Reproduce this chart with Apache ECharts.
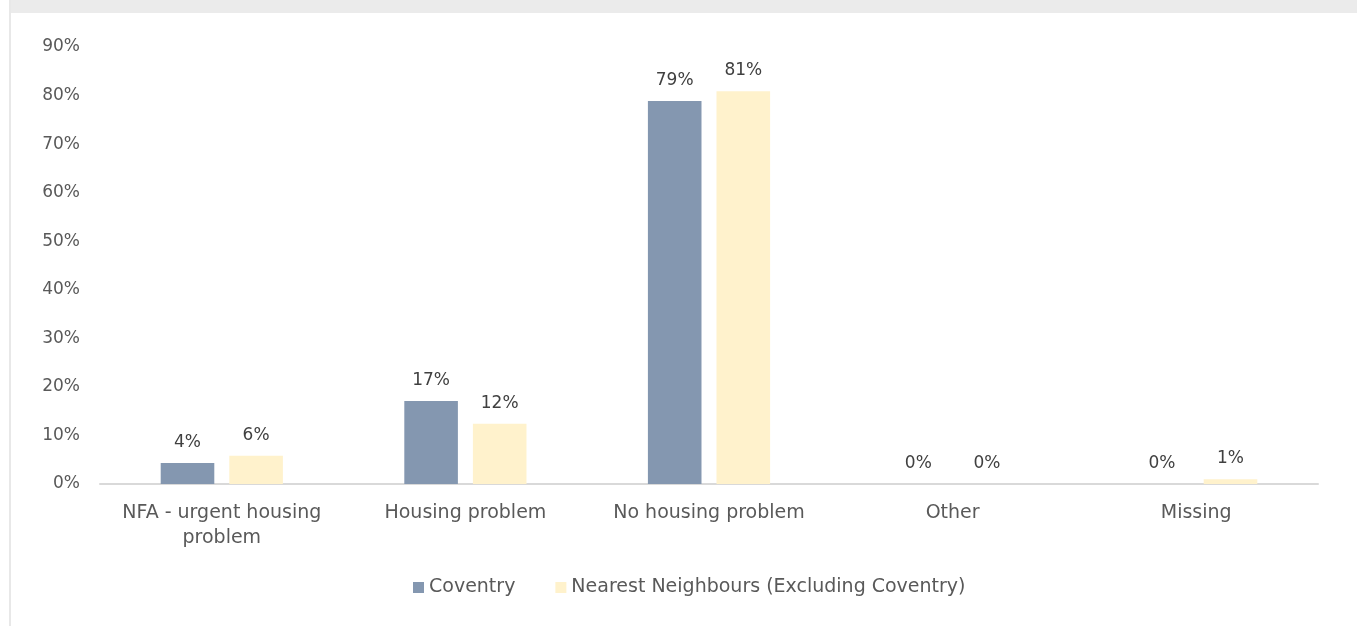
<!DOCTYPE html>
<html>
<head>
<meta charset="utf-8">
<script src="https://cdn.jsdelivr.net/npm/echarts@6/dist/echarts.min.js"></script>
<style>
  html, body { margin: 0; padding: 0; background: #ffffff; }
  #chart { width: 1357px; height: 628px; }
</style>
</head>
<body>
<div id="chart"></div>
<script>
// Housing situation: share of cases by category
const categories = ['NFA - urgent housing\nproblem', 'Housing problem', 'No housing problem', 'Other', 'Missing'];
const coventry = [4.3, 17.1, 78.9, 0, 0];
const nearestNeighbours = [5.8, 12.4, 80.9, 0, 1.0];
const seriesNames = ['Coventry', 'Nearest Neighbours (Excluding Coventry)'];
const yTicks = { min: 0, max: 90, interval: 10 };

const FONT = '"DejaVu Sans"';
const TEXT = '#595959';

const chart = echarts.init(document.getElementById('chart'), null, { renderer: 'canvas' });

const pctLabel = {
  show: true,
  position: 'top',
  distance: 12,
  fontFamily: FONT,
  fontSize: 17,
  color: '#404040',
  formatter: p => Math.round(p.value) + '%'
};

chart.setOption({
  backgroundColor: '#ffffff',
  animation: false,
  graphic: [
    { type: 'rect', left: 9, top: 0, shape: { width: 1348, height: 13 }, style: { fill: '#ebebeb' }, silent: true },
    { type: 'rect', left: 9, top: 0, shape: { width: 2, height: 626 }, style: { fill: '#e8e8e8' }, silent: true }
  ],
  grid: { left: 100, right: 39, top: 47, bottom: 144, containLabel: false },
  legend: {
    data: seriesNames,
    bottom: 26,
    left: 408,
    itemWidth: 11,
    itemHeight: 11,
    itemGap: 40,
    icon: 'rect',
    textStyle: { fontFamily: FONT, fontSize: 19, color: TEXT }
  },
  xAxis: {
    type: 'category',
    data: categories,
    axisLine: { lineStyle: { color: '#d9d9d9', width: 2 } },
    axisTick: { show: false },
    axisLabel: {
      fontFamily: FONT, fontSize: 19, color: TEXT,
      margin: 17, lineHeight: 25, interval: 0
    }
  },
  yAxis: {
    type: 'value',
    min: yTicks.min,
    max: yTicks.max,
    interval: yTicks.interval,
    axisLine: { show: false },
    axisTick: { show: false },
    splitLine: { show: false },
    axisLabel: {
      fontFamily: FONT, fontSize: 17, color: TEXT, margin: 20,
      formatter: v => v + '%'
    }
  },
  series: [
    {
      name: seriesNames[0], type: 'bar', data: coventry,
      barWidth: '22%', barGap: '28%',
      itemStyle: { color: '#8497b0' },
      label: pctLabel
    },
    {
      name: seriesNames[1], type: 'bar', data: nearestNeighbours,
      barWidth: '22%',
      itemStyle: { color: '#fff2cc' },
      label: pctLabel
    }
  ]
});
</script>
</body>
</html>
